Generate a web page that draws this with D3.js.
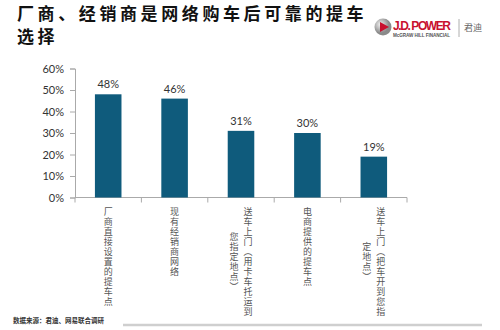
<!DOCTYPE html>
<html>
<head>
<meta charset="utf-8">
<script src="https://cdn.jsdelivr.net/npm/d3@7"></script>
<style>
html,body{margin:0;padding:0;background:#fff;}
svg{display:block;}
</style>
</head>
<body>
<svg id="chart" width="500" height="330"></svg>
<script>
const categories = [
  "厂商直接设置的提车点",
  "现有经销商网络",
  "送车上门（用卡车托运到您指定地点）",
  "电商提供的提车点",
  "送车上门（把车开到您指定地点）"
];
const values = [0.48, 0.46, 0.31, 0.30, 0.19];
const yTicks = [0, 0.1, 0.2, 0.3, 0.4, 0.5, 0.6];
const titleLines = ["厂商、经销商是网络购车后可靠的提车", "选择"];
const sourceText = "数据来源：君迪、网易联合调研";

const svg = d3.select("#chart");
const cjk = "'Noto Sans CJK SC','Noto Sans',sans-serif";
const latin = "Lato,'Liberation Sans',Arial,sans-serif";

// Title
svg.append("g").selectAll("text").data(titleLines).join("text")
  .attr("font-family", cjk).attr("font-weight", 700)
  .attr("font-size", 17).attr("letter-spacing", 3.6).attr("fill", "#111")
  .attr("x", 17).attr("y", (d, i) => 19.5 + i * 23).text(d => d);

const defs = svg.append("defs");
const redGrad = defs.append("linearGradient").attr("id", "rg");
redGrad.append("stop").attr("offset", "0").attr("stop-color", "#d46a7a");
redGrad.append("stop").attr("offset", "1").attr("stop-color", "#d98a93");
svg.append("line").attr("x1", 17).attr("x2", 480).attr("y1", 45.5).attr("y2", 45.5)
  .attr("stroke", "url(#rg)").attr("stroke-width", 1.2);

// Logo
const cg = defs.append("radialGradient").attr("id", "cg").attr("cx", "35%").attr("cy", "35%");
cg.append("stop").attr("offset", "0").attr("stop-color", "#f2f2f2");
cg.append("stop").attr("offset", "1").attr("stop-color", "#8a8a8a");
svg.append("circle").attr("cx", 383).attr("cy", 27).attr("r", 8.5).attr("fill", "url(#cg)");
svg.append("path").attr("d", "M380,22 L389,27 L380,32 Z").attr("fill", "#c8102e");
svg.append("text").attr("x", 393).attr("y", 30).attr("font-family", "'Liberation Sans',Arial,sans-serif")
  .attr("font-weight", 700).attr("font-size", 12).attr("fill", "#c8102e").attr("textLength", 58)
  .text("J.D. POWER");
svg.append("text").attr("x", 393).attr("y", 37).attr("font-family", "'Liberation Sans',Arial,sans-serif")
  .attr("font-weight", 700).attr("font-size", 4.6).attr("fill", "#555").attr("textLength", 57)
  .text("McGRAW HILL FINANCIAL");
svg.append("line").attr("x1", 459).attr("x2", 459).attr("y1", 19).attr("y2", 37)
  .attr("stroke", "#999").attr("stroke-width", 0.8);
svg.append("text").attr("x", 464).attr("y", 31).attr("font-family", cjk)
  .attr("font-size", 9).attr("fill", "#666").text("君迪");

// Scales
const x = d3.scaleBand().domain(categories).range([75, 407]).paddingInner(0.6).paddingOuter(0.3);
const xEdge = d3.scaleBand().domain(categories).range([75, 407]).padding(0);
const y = d3.scaleLinear().domain([0, 0.6]).range([197.5, 68.5]);

// Y axis
const yAxis = svg.append("g").attr("transform", "translate(75,0)")
  .call(d3.axisLeft(y).tickValues(yTicks).tickFormat(d3.format(".0%")).tickSize(5).tickPadding(6));
yAxis.select(".domain").attr("stroke", "#aaa");
yAxis.selectAll(".tick line").attr("stroke", "#aaa");
yAxis.selectAll("text").attr("font-family", latin).attr("font-size", 11).attr("fill", "#333");

// X axis (category boundary ticks)
svg.append("line").attr("x1", 75).attr("x2", 407).attr("y1", y(0)).attr("y2", y(0))
  .attr("stroke", "#aaa");
const edges = categories.map(c => xEdge(c)).concat([xEdge.range()[1]]);
svg.append("g").selectAll("line").data(edges).join("line")
  .attr("x1", d => d).attr("x2", d => d).attr("y1", y(0)).attr("y2", y(0) + 5)
  .attr("stroke", "#aaa");

// Bars
svg.append("g").selectAll("rect").data(values).join("rect")
  .attr("x", (d, i) => x(categories[i])).attr("width", x.bandwidth())
  .attr("y", d => y(d)).attr("height", d => y(0) - y(d))
  .attr("fill", "#0f5b7c");

svg.append("g").selectAll("text").data(values).join("text")
  .attr("x", (d, i) => x(categories[i]) + x.bandwidth() / 2)
  .attr("y", d => y(d) - 6)
  .attr("text-anchor", "middle").attr("font-family", latin).attr("font-size", 11)
  .attr("fill", "#333").text(d => d3.format(".0%")(d));

// Vertical category labels (stacked characters, columns right-to-left)
const fs = 9, step = 10, perCol = 11, colGap = 14, labelTop = 207;
const vertForm = ch => ch === "（" ? "︵" : ch === "）" ? "︶" : ch;
const labelG = svg.append("g").attr("font-family", cjk).attr("font-size", fs).attr("fill", "#555");
categories.forEach(c => {
  const chars = Array.from(c);
  const cols = [];
  for (let i = 0; i < chars.length; i += perCol) cols.push(chars.slice(i, i + perCol));
  const longest = d3.max(cols, s => s.length);
  const midY = labelTop + longest * step / 2;
  const cx = x(c) + x.bandwidth() / 2;
  const n = cols.length;
  cols.forEach((s, j) => {
    const colX = cx + ((n - 1) / 2 - j) * colGap;
    const top = midY - s.length * step / 2;
    labelG.append("text")
      .attr("text-anchor", "middle")
      .selectAll("tspan").data(s).join("tspan")
      .attr("x", colX).attr("y", (ch, k) => top + k * step + step / 2 + fs * 0.38)
      .text(ch => vertForm(ch));
  });
});

// Footer
svg.append("line").attr("x1", 123).attr("x2", 482).attr("y1", 325).attr("y2", 325)
  .attr("stroke", "#cfcfcf").attr("stroke-width", 2.5);
svg.append("text").attr("x", 13).attr("y", 323).attr("font-family", cjk)
  .attr("font-weight", 700).attr("font-size", 6.5).attr("fill", "#333").text(sourceText);
</script>
</body>
</html>
